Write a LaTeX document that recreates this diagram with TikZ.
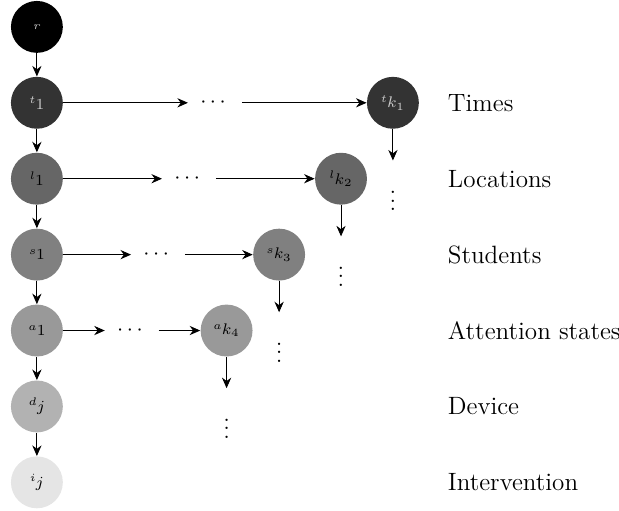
\documentclass[tikz,border=0pt]{standalone}
\usepackage{amsmath}
\usetikzlibrary{arrows.meta,positioning}
\newcommand{\lab}[2]{\raisebox{0.6ex}{\fontsize{5.2}{6}\selectfont$#1$}{\fontsize{7}{8}\selectfont$#2$}}

\begin{document}
\begin{tikzpicture}[
    node distance=0.37cm and 1.0cm,
    var/.style={circle,minimum size=0.83cm,inner sep=0pt},
    darkvar/.style={var,text=white!80!black},
    dotsnode/.style={inner xsep=0.19cm,inner ysep=0pt},
    vdotsnode/.style={inner xsep=0pt,inner ysep=0.27cm},
    rowlabel/.style={anchor=west,font=\fontsize{11.4}{13}\selectfont},
    arrow/.style={-{Stealth[length=4.8pt,width=4.2pt]}}
]
\useasboundingbox (-0.59,0.43) rectangle (9.31,-7.73);
% first column
\node[darkvar,fill=black] (r) at (0,0) {{\fontsize{5.2}{6}\selectfont$r$}};
\node[darkvar,fill=black!80,below=of r] (t1) {\lab{t}{1}};
\node[var,fill=black!60,below=of t1] (l1) {\lab{l}{1}};
\node[var,fill=black!50,below=of l1] (s1) {\lab{s}{1}};
\node[var,fill=black!40,below=of s1] (a1) {\lab{a}{1}};
\node[var,fill=black!30,below=of a1] (dj) {\lab{d}{j}};
\node[var,fill=black!10,below=of dj] (ij) {\lab{i}{j}};

% last element of each row
\node[darkvar,fill=black!80,right=4.85cm of t1] (tk) {\lab{t}{k_1}};
\node[var,fill=black!60,right=4.02cm of l1] (lk) {\lab{l}{k_2}};
\node[var,fill=black!50,right=3.03cm of s1] (sk) {\lab{s}{k_3}};
\node[var,fill=black!40,right=2.19cm of a1] (ak) {\lab{a}{k_4}};

\path (t1) -- node[dotsnode] (tdots) {$\cdots$} (tk);
\path (l1) -- node[dotsnode] (ldots) {$\cdots$} (lk);
\path (s1) -- node[dotsnode] (sdots) {$\cdots$} (sk);
\path (a1) -- node[dotsnode] (adots) {$\cdots$} (ak);

\node[vdotsnode,below=0.5cm of tk] (tvd) {$\vdots$};
\node[vdotsnode,below=0.5cm of lk] (lvd) {$\vdots$};
\node[vdotsnode,below=0.5cm of sk] (svd) {$\vdots$};
\node[vdotsnode,below=0.5cm of ak] (avd) {$\vdots$};

% row labels
\coordinate (labx) at (6.45,0);
\node[rowlabel] (times) at (t1 -| labx) {Times};
\node[rowlabel] (locs) at (l1 -| labx) {Locations};
\node[rowlabel] (studs) at (s1 -| labx) {Students};
\node[rowlabel] (atts) at (a1 -| labx) {Attention states};
\node[rowlabel] (dev) at (dj -| labx) {Device};
\node[rowlabel] (interv) at (ij -| labx) {Intervention};

\draw[arrow] (r) -- (t1);
\draw[arrow] (t1) -- (l1);
\draw[arrow] (l1) -- (s1);
\draw[arrow] (s1) -- (a1);
\draw[arrow] (a1) -- (dj);
\draw[arrow] (dj) -- (ij);

\draw[arrow] (t1) -- (tdots);
\draw[arrow] (tdots) -- (tk);
\draw[arrow] (l1) -- (ldots);
\draw[arrow] (ldots) -- (lk);
\draw[arrow] (s1) -- (sdots);
\draw[arrow] (sdots) -- (sk);
\draw[arrow] (a1) -- (adots);
\draw[arrow] (adots) -- (ak);

\draw[arrow] (tk) -- (tvd);
\draw[arrow] (lk) -- (lvd);
\draw[arrow] (sk) -- (svd);
\draw[arrow] (ak) -- (avd);
\end{tikzpicture}
\end{document}
